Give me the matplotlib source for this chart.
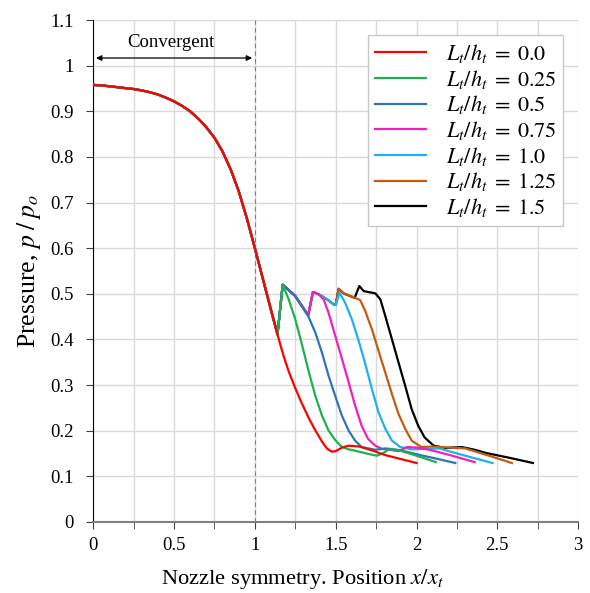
import matplotlib
matplotlib.use("Agg")
import matplotlib.pyplot as plt
import numpy as np

plt.rcParams['font.family'] = ['Liberation Serif', 'DejaVu Serif']
plt.rcParams['mathtext.fontset'] = 'stix'

# shared convergent part (x/x_t, p/p_o)
x_conv = [0, 0.05, 0.1, 0.15, 0.2, 0.25, 0.3, 0.35, 0.4, 0.45, 0.5, 0.55, 0.6, 0.65, 0.7, 0.75,
          0.8, 0.85, 0.9, 0.95, 1.0, 1.05, 1.1, 1.14]
p_conv = [0.958, 0.957, 0.955, 0.953, 0.951, 0.949, 0.946, 0.942, 0.937, 0.930, 0.922, 0.912,
          0.900, 0.884, 0.865, 0.842, 0.812, 0.773, 0.725, 0.666, 0.600, 0.532, 0.464, 0.411]

# divergent part for each throat length
x_00 = [1.16, 1.18, 1.21, 1.25, 1.29, 1.33, 1.37, 1.415, 1.445, 1.475, 1.50, 1.54, 1.58, 1.65, 1.73,
        1.81, 1.9, 2.0]
p_00 = [0.385, 0.361, 0.329, 0.293, 0.260, 0.230, 0.203, 0.176, 0.161, 0.154, 0.155, 0.163, 0.167, 0.165,
        0.156, 0.146, 0.138, 0.129]

x_025 = [1.172, 1.209, 1.25, 1.291, 1.332, 1.374, 1.415, 1.456, 1.50, 1.539, 1.58, 1.62, 1.70, 1.755,
         1.79, 1.83, 1.87, 1.91, 2.0, 2.06, 2.12]
p_025 = [0.520, 0.488, 0.444, 0.389, 0.331, 0.276, 0.233, 0.200, 0.178, 0.164, 0.159, 0.156, 0.149, 0.145,
         0.150, 0.159, 0.158, 0.155, 0.145, 0.138, 0.131]

x_05 = [1.172, 1.25, 1.33, 1.374, 1.415, 1.456, 1.497, 1.538, 1.58, 1.62, 1.66, 1.745, 1.81, 1.90,
        2.015, 2.13, 2.24]
p_05 = [0.520, 0.495, 0.451, 0.415, 0.371, 0.320, 0.276, 0.233, 0.200, 0.178, 0.164, 0.158, 0.161, 0.157,
        0.147, 0.138, 0.129]

x_075 = [1.172, 1.25, 1.33, 1.359, 1.394, 1.425, 1.456, 1.497, 1.539, 1.58, 1.62, 1.66, 1.70, 1.745,
         1.786, 1.83, 1.89, 1.94, 2.0, 2.08, 2.2, 2.36]
p_075 = [0.520, 0.495, 0.453, 0.504, 0.499, 0.488, 0.458, 0.408, 0.357, 0.306, 0.255, 0.211, 0.182, 0.167,
         0.160, 0.158, 0.155, 0.164, 0.163, 0.158, 0.147, 0.131]

x_10 = [1.172, 1.25, 1.33, 1.359, 1.394, 1.446, 1.487, 1.50, 1.524, 1.559, 1.60, 1.642, 1.683, 1.724,
        1.765, 1.807, 1.848, 1.90, 1.97, 2.05, 2.14, 2.28, 2.47]
p_10 = [0.520, 0.495, 0.453, 0.504, 0.499, 0.488, 0.477, 0.476, 0.502, 0.480, 0.444, 0.397, 0.346, 0.291,
        0.240, 0.204, 0.178, 0.164, 0.159, 0.160, 0.161, 0.147, 0.129]

x_125 = [1.172, 1.25, 1.33, 1.359, 1.394, 1.446, 1.487, 1.50, 1.518, 1.549, 1.621, 1.652, 1.683, 1.724,
         1.765, 1.807, 1.848, 1.889, 1.93, 1.97, 2.03, 2.10, 2.30, 2.43, 2.59]
p_125 = [0.520, 0.495, 0.453, 0.504, 0.499, 0.488, 0.477, 0.476, 0.511, 0.501, 0.491, 0.486, 0.462, 0.422,
         0.375, 0.327, 0.280, 0.236, 0.204, 0.178, 0.164, 0.165, 0.161, 0.147, 0.129]

x_15 = [1.172, 1.25, 1.33, 1.359, 1.394, 1.446, 1.487, 1.50, 1.518, 1.549, 1.617, 1.646, 1.673, 1.70,
        1.745, 1.776, 1.807, 1.848, 1.889, 1.93, 1.97, 2.01, 2.05, 2.106, 2.178, 2.28, 2.36, 2.43, 2.58, 2.72]
p_15 = [0.520, 0.495, 0.453, 0.504, 0.499, 0.488, 0.477, 0.476, 0.511, 0.501, 0.491, 0.517, 0.506, 0.504,
        0.501, 0.488, 0.451, 0.400, 0.349, 0.298, 0.247, 0.211, 0.185, 0.167, 0.162, 0.164, 0.158, 0.151, 0.140, 0.129]

labels = ['0.0', '0.25', '0.5', '0.75', '1.0', '1.25', '1.5']
series_x = [x_00, x_025, x_05, x_075, x_10, x_125, x_15]
series_p = [p_00, p_025, p_05, p_075, p_10, p_125, p_15]
colors = ['#ff0000', '#1fb050', '#2e75b6', '#f01fbd', '#1fb0f0', '#c55a11', '#000000']

fig = plt.figure(figsize=(5.9, 5.93), dpi=100)
ax = fig.add_axes([0.158, 0.12, 0.822, 0.846])

lines = []
for i in range(len(labels) - 1, -1, -1):
    xs = np.concatenate([x_conv, series_x[i]])
    ps = np.concatenate([p_conv, series_p[i]])
    ln, = ax.plot(xs, ps, color=colors[i], lw=1.6, label=r'$L_t/h_t\;=\;' + labels[i] + '$', zorder=3)
    lines.insert(0, ln)

ax.set_xlim(0, 3)
ax.set_ylim(0, 1.1)
ax.set_xticks(np.arange(0, 3.01, 0.5))
ax.set_xticks(np.arange(0, 3.01, 0.25), minor=True)
ax.set_yticks(np.arange(0, 1.101, 0.1))
ax.set_xticklabels([f'{v:g}' for v in np.arange(0, 3.01, 0.5)])
ax.set_yticklabels([f'{v:g}' for v in np.round(np.arange(0, 1.101, 0.1), 1)])
ax.tick_params(axis='both', which='both', direction='out', length=5, labelsize=13.5, color='#404040')
ax.tick_params(axis='x', which='both', pad=6)
ax.tick_params(axis='y', pad=9)
ax.grid(True, which='both', color='#d9d9d9', lw=1, zorder=0)
ax.set_axisbelow(True)

ax.spines['top'].set_visible(False)
ax.spines['right'].set_visible(False)
ax.spines['left'].set_color('black')
ax.spines['bottom'].set_color('#7f7f7f')
ax.spines['bottom'].set_linewidth(1.5)

# throat position
ax.axvline(1.0, color='#808080', lw=0.8, ls=(0, (4, 3)), zorder=2)
ax.annotate('', xy=(0, 1.017), xytext=(1.0, 1.017),
            arrowprops=dict(arrowstyle='<|-|>', color='black', lw=0.9, mutation_scale=8))
ax.text(0.48, 1.052, 'Convergent', ha='center', va='center', fontsize=13.5)

ax.set_xlabel('Nozzle symmetry. Position $x/x_t$', fontsize=16.2, labelpad=0)
ax.xaxis.set_label_coords(0.431, -0.09)
ax.set_ylabel(r'Pressure, $p\;/\;p_o$', fontsize=18.5, labelpad=5)

leg = ax.legend(handles=lines, loc='upper right', bbox_to_anchor=(0.992, 0.992), fontsize=16,
                frameon=True, fancybox=False, framealpha=1, edgecolor='#c8c8c8',
                handlelength=2.3, labelspacing=0.12, borderpad=0.3, handletextpad=0.9)
leg.get_frame().set_linewidth(1)

plt.savefig('out.png', dpi=100)
